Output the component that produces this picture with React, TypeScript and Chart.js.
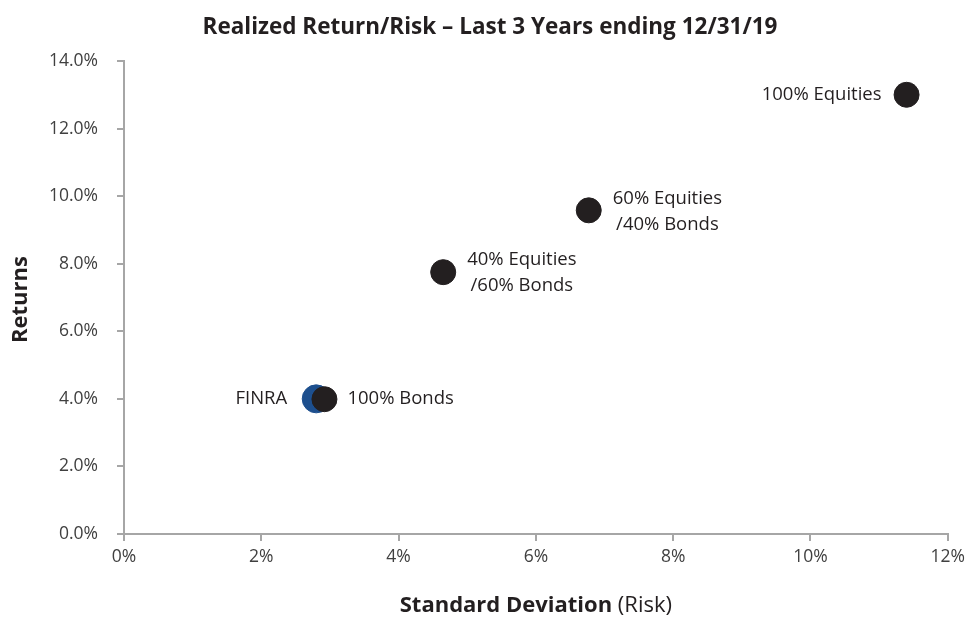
import React, { useEffect, useRef } from "react";
import { Chart, registerables } from "chart.js";

Chart.register(...registerables);

const titleText = "Realized Return/Risk – Last 3 Years ending 12/31/19";
const yTitleText = "Returns";
const xTitleBold = "Standard Deviation";
const xTitleNormal = " (Risk)";
const portfolioNames = ["100% Bonds", "40% Equities\n/60% Bonds", "60% Equities\n/40% Bonds", "100% Equities"];
const portfolioRisk = [2.92, 4.65, 6.77, 11.4];
const portfolioReturn = [3.99, 7.75, 9.58, 13.0];
const finraName = "FINRA";
const finraRisk = [2.8];
const finraReturn = [4.0];
const xTicks = [0, 2, 4, 6, 8, 10, 12];
const yTicks = [0, 2, 4, 6, 8, 10, 12, 14];

const FONT = "'Open Sans', 'Noto Sans', sans-serif";
const TEXT = "#231f20";
const AXIS = "#a6a6a6";

const labelPlugin = {
  id: "labelPlugin",
  afterDatasetsDraw(chart: any) {
    const ctx = chart.ctx;
    ctx.save();
    ctx.fillStyle = TEXT;
    ctx.font = `18.5px ${FONT}`;
    ctx.textBaseline = "middle";
    const meta = chart.getDatasetMeta(1);
    meta.data.forEach((pt: any, i: number) => {
      const lines = portfolioNames[i].split("\n");
      if (i === 3) {
        ctx.textAlign = "right";
        ctx.fillText(lines[0], pt.x - 25, pt.y);
      } else if (lines.length === 1) {
        ctx.textAlign = "left";
        ctx.fillText(lines[0], pt.x + 23, pt.y);
      } else {
        ctx.textAlign = "center";
        const w = Math.max(...lines.map((l: string) => ctx.measureText(l).width));
        const cx = pt.x + 24 + w / 2;
        ctx.fillText(lines[0], cx, pt.y - 12);
        ctx.fillText(lines[1], cx, pt.y + 14);
      }
    });
    const fm = chart.getDatasetMeta(0);
    fm.data.forEach((pt: any) => {
      ctx.textAlign = "right";
      ctx.fillText(finraName, pt.x - 29, pt.y);
    });
    const a = chart.chartArea;
    // title
    ctx.textAlign = "center";
    ctx.font = `bold 22.5px ${FONT}`;
    ctx.fillText(titleText, 490, 28);
    // y title
    ctx.save();
    ctx.translate(21, (a.top + a.bottom) / 2 + 2);
    ctx.rotate(-Math.PI / 2);
    ctx.font = `bold 22px ${FONT}`;
    ctx.fillText(yTitleText, 0, 0);
    ctx.restore();
    // x axis title with mixed weight
    ctx.font = `bold 22px ${FONT}`;
    const bw = ctx.measureText(xTitleBold).width;
    ctx.font = `22px ${FONT}`;
    const nw = ctx.measureText(xTitleNormal).width;
    const start = (a.left + a.right) / 2 - (bw + nw) / 2;
    ctx.textAlign = "left";
    ctx.font = `bold 22px ${FONT}`;
    ctx.fillText(xTitleBold, start, 606);
    ctx.font = `22px ${FONT}`;
    ctx.fillText(xTitleNormal, start + bw, 606);
    ctx.restore();
  },
};

export default function App() {
  const ref = useRef<HTMLCanvasElement>(null);
  useEffect(() => {
    const chart = new Chart(ref.current!, {
      type: "scatter",
      data: {
        datasets: [
          {
            label: finraName,
            data: finraRisk.map((x, i) => ({ x, y: finraReturn[i] })),
            backgroundColor: "#1d4f8e",
            borderColor: "#1d4f8e",
            pointRadius: 14,
            pointHoverRadius: 14,
            order: 2,
          },
          {
            label: "Portfolios",
            data: portfolioRisk.map((x, i) => ({ x, y: portfolioReturn[i] })),
            backgroundColor: TEXT,
            borderColor: TEXT,
            pointRadius: 12.5,
            pointHoverRadius: 12.5,
            order: 1,
          },
        ],
      },
      options: {
        animation: false,
        responsive: false,
        events: [],
        layout: { padding: { top: 61, right: 23, left: 0, bottom: 0 } },
        plugins: { legend: { display: false }, tooltip: { enabled: false }, title: { display: false } },
        scales: {
          x: {
            type: "linear",
            min: 0,
            max: 12,
            afterBuildTicks: (s: any) => { s.ticks = xTicks.map((v) => ({ value: v })); },
            afterFit: (s: any) => { s.height = 83; },
            ticks: {
              callback: (v: any) => `${v}%`,
              color: "#404040",
              font: { family: FONT, size: 17.5 },
              padding: 6,
              maxRotation: 0,
            },
            grid: { drawOnChartArea: false, drawTicks: true, tickLength: 7, color: AXIS, lineWidth: 2 },
            border: { color: AXIS, width: 2 },
          },
          y: {
            type: "linear",
            min: 0,
            max: 14,
            afterBuildTicks: (s: any) => { s.ticks = yTicks.map((v) => ({ value: v })); },
            afterFit: (s: any) => { s.width = 124; },
            ticks: {
              callback: (v: any) => `${Number(v).toFixed(1)}%`,
              color: "#404040",
              font: { family: FONT, size: 17.5 },
              padding: 19,
            },
            grid: { drawOnChartArea: false, drawTicks: true, tickLength: 7, color: AXIS, lineWidth: 2 },
            border: { color: AXIS, width: 2 },
          },
        },
      },
      plugins: [labelPlugin],
    } as any);
    return () => chart.destroy();
  }, []);
  return (
    <div style={{ position: "fixed", left: 0, top: 0, width: 971, height: 617, background: "#fff" }}>
      <canvas ref={ref} width={971} height={617} style={{ width: 971, height: 617 }} />
    </div>
  );
}
